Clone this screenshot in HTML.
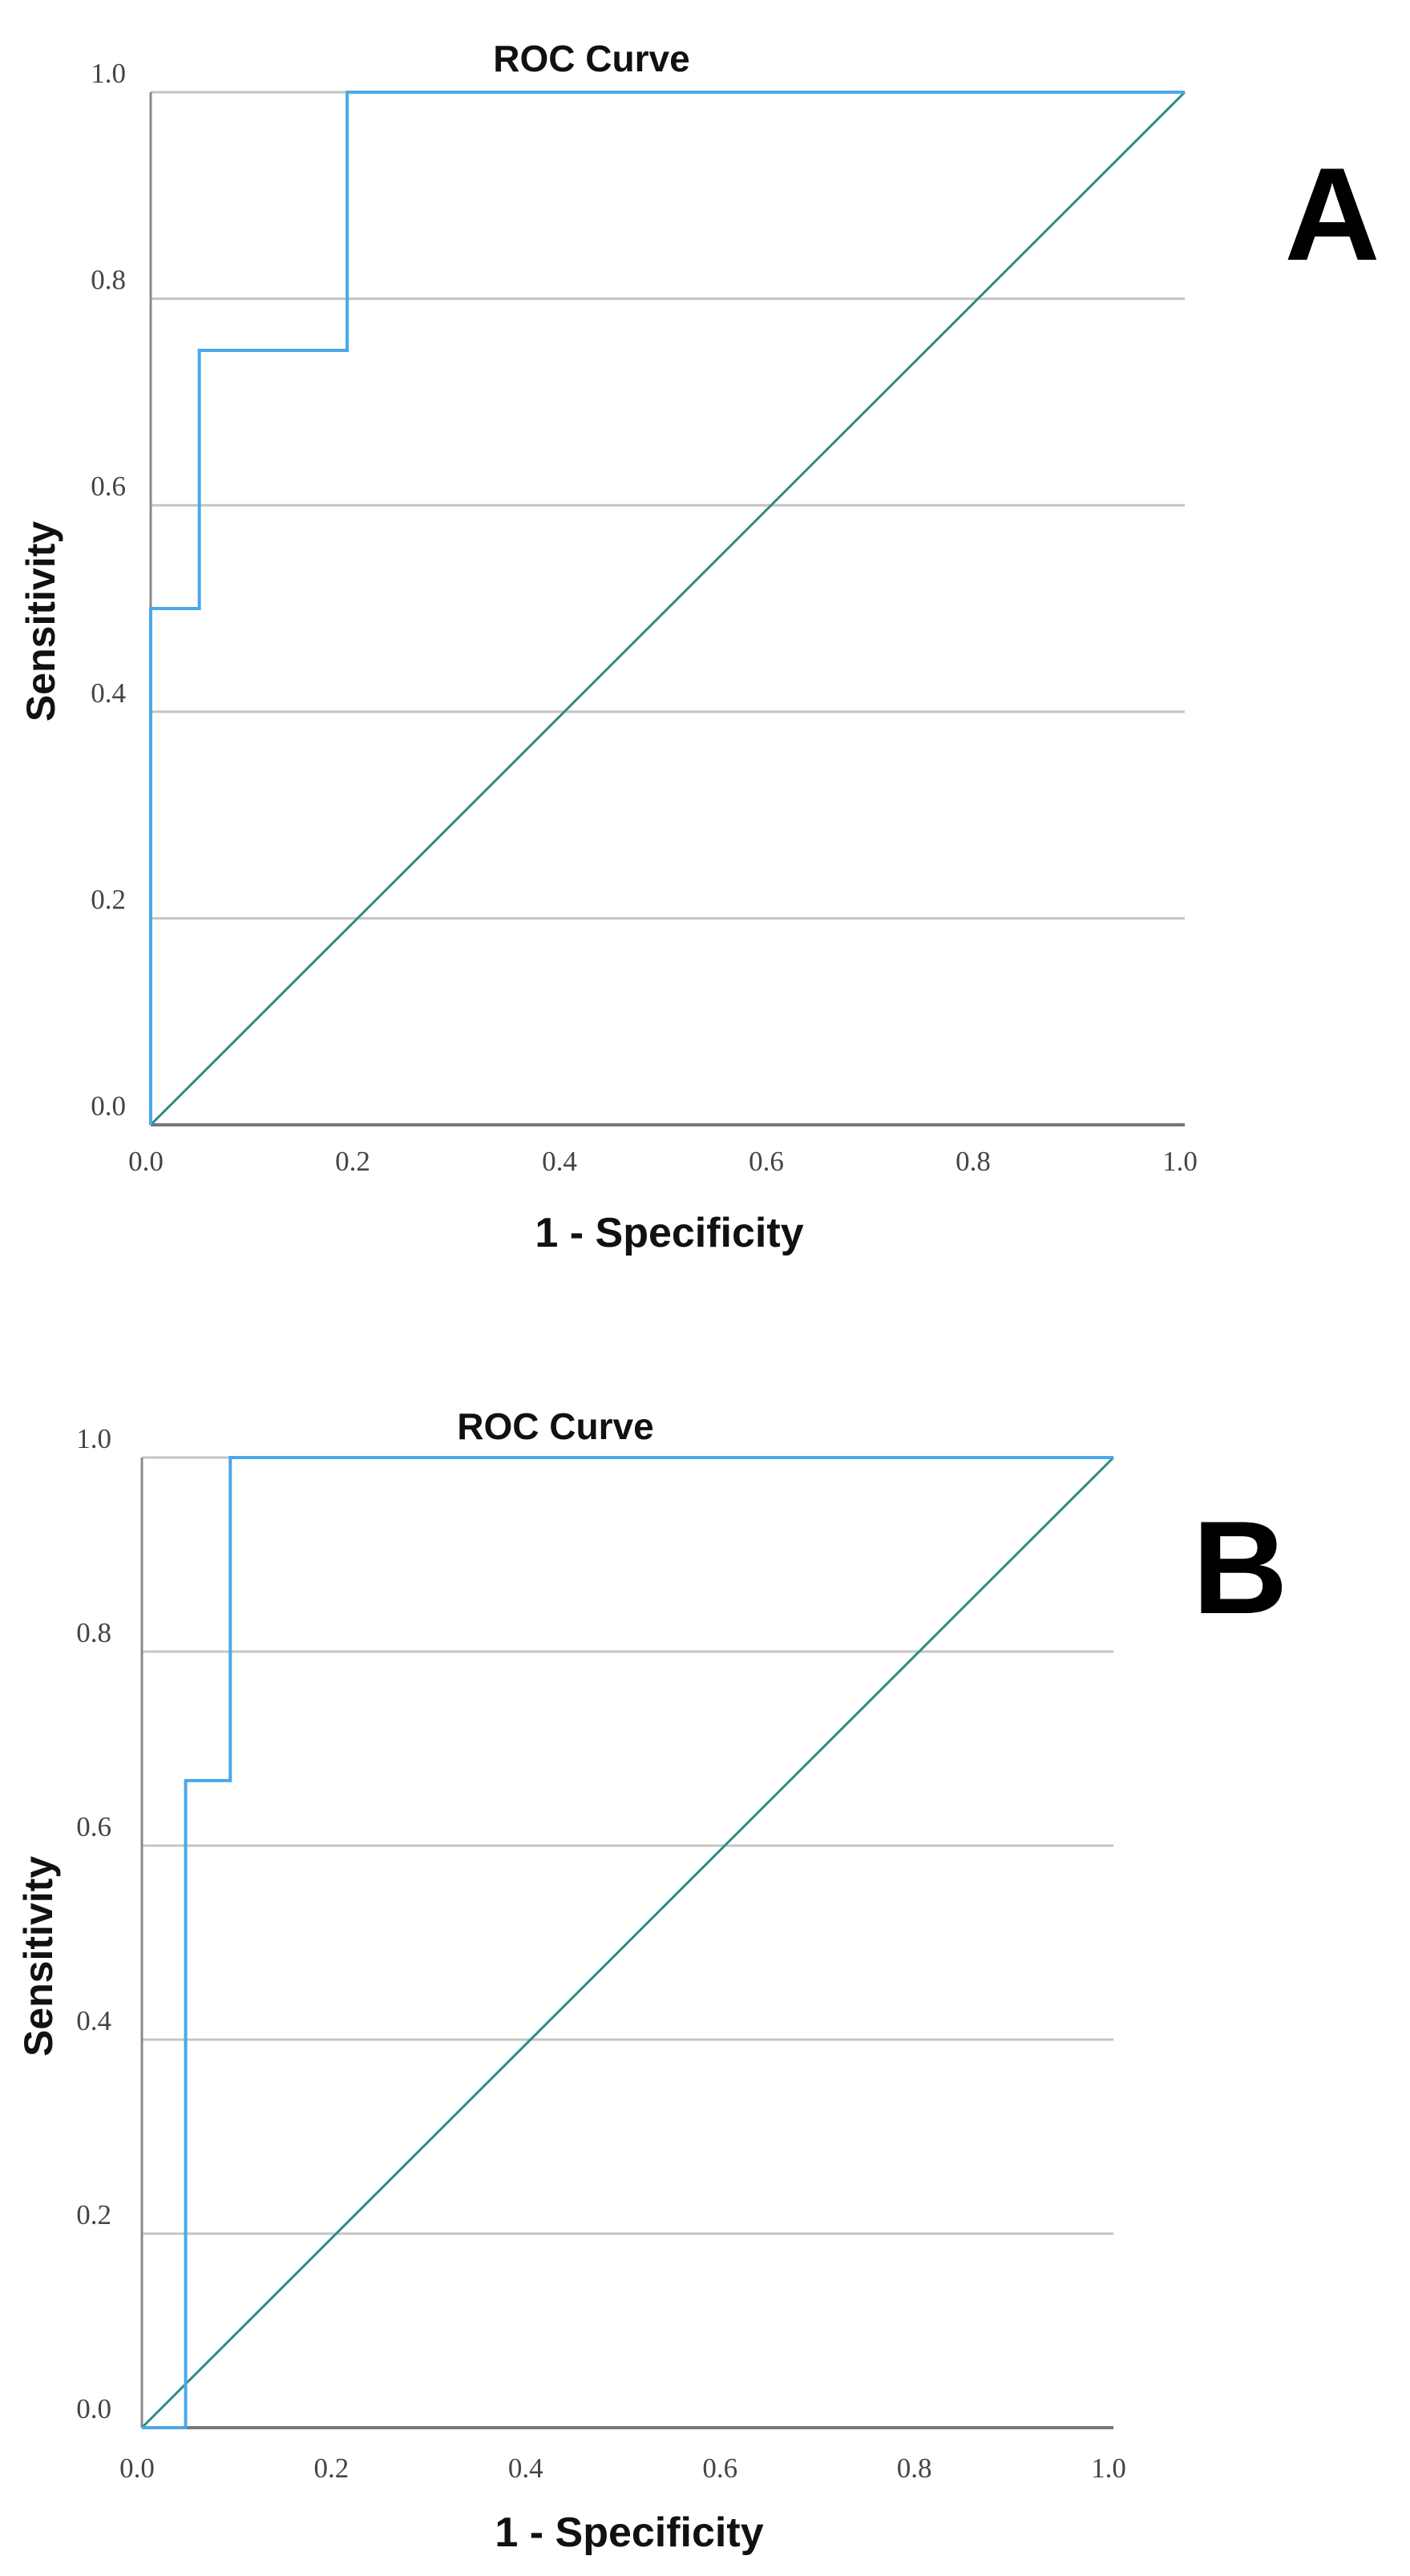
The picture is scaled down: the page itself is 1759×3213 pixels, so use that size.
<!DOCTYPE html>
<html><head><meta charset="utf-8"><style>
html,body{margin:0;padding:0;background:#fff;}
svg{display:block;}
</style></head><body>
<svg id="fig" width="1759" height="3213" viewBox="0 0 1759 3213" xmlns="http://www.w3.org/2000/svg"></svg>
<script>
const yTicks = [0.0, 0.2, 0.4, 0.6, 0.8, 1.0];
const xTicks = [0.0, 0.2, 0.4, 0.6, 0.8, 1.0];
const rocAx = [0, 0, 0.047, 0.047, 0.19, 0.19, 1.0];
const rocAy = [0, 0.5, 0.5, 0.75, 0.75, 1.0, 1.0];
const rocBx = [0, 0.045, 0.045, 0.091, 0.091, 1.0];
const rocBy = [0, 0, 0.667, 0.667, 1.0, 1.0];
const refX = [0, 1];
const refY = [0, 1];

const NS = 'http://www.w3.org/2000/svg';
const svg = document.getElementById('fig');
function mk(tag, attrs, parent) {
  const e = document.createElementNS(NS, tag);
  for (const k in attrs) e.setAttribute(k, attrs[k]);
  (parent || svg).appendChild(e);
  return e;
}
function drawChart(cfg) {
  const g = mk('g', {});
  
  
  const sx = v => cfg.x0 + v * (cfg.x1 - cfg.x0);
  const sy = v => cfg.y0 - v * (cfg.y0 - cfg.y1);
  yTicks.forEach(t => {
    if (t > 0) {
      const gl = mk('line', {x1: sx(0), x2: sx(1), y1: sy(t), y2: sy(t), stroke: '#c4c4c4', 'stroke-width': 3}, g);
      
      
    }
    const tl = mk('text', {x: cfg.ylabX, y: sy(t) - 12, 'text-anchor': 'end', 'font-family': 'Liberation Serif, serif', 'font-size': 35, fill: '#444'}, g);
    tl.textContent = t.toFixed(1);
    
    
  });
  xTicks.forEach(t => {
    const tl = mk('text', {x: sx(t) - 6, y: cfg.xlabY, 'text-anchor': 'middle', 'font-family': 'Liberation Serif, serif', 'font-size': 35, fill: '#444'}, g);
    tl.textContent = t.toFixed(1);
    
    
  });
  const ya = mk('line', {x1: sx(0), x2: sx(0), y1: sy(1), y2: sy(0), stroke: '#8a8a8a', 'stroke-width': 3}, g);
  
  
  const xa = mk('line', {x1: sx(0), x2: sx(1), y1: sy(0), y2: sy(0), stroke: '#777', 'stroke-width': 4}, g);
  
  
  const rp = mk('polyline', {points: refX.map((v, i) => sx(v) + ',' + sy(refY[i])).join(' '), fill: 'none', stroke: '#2f8a87', 'stroke-width': 3}, g);
  
  
  const cp = mk('polyline', {points: cfg.xs.map((v, i) => sx(v) + ',' + sy(cfg.ys[i])).join(' '), fill: 'none', stroke: '#4aa8ea', 'stroke-width': 4}, g);
  
  
  const ti = mk('text', {x: cfg.titleX, y: cfg.titleY, 'text-anchor': 'middle', 'font-family': 'Liberation Sans, sans-serif', 'font-size': 46, 'font-weight': 'bold', fill: '#111'}, g);
  ti.textContent = 'ROC Curve';
  
  
  const xt = mk('text', {x: cfg.xtX, y: cfg.xtY, 'text-anchor': 'middle', 'font-family': 'Liberation Sans, sans-serif', 'font-size': 52, 'font-weight': 'bold', fill: '#111'}, g);
  xt.textContent = '1 - Specificity';
  
  
  const yt = mk('text', {x: 0, y: 0, transform: 'translate(' + (cfg.ytX + 18) + ',' + cfg.ytY + ') rotate(-90)', 'text-anchor': 'middle', 'font-family': 'Liberation Sans, sans-serif', 'font-size': 50, 'font-weight': 'bold', fill: '#111'}, g);
  yt.textContent = 'Sensitivity';
  
  
  const pl = mk('text', {x: cfg.panelX, y: cfg.panelY, 'text-anchor': 'middle', 'font-family': 'Liberation Sans, sans-serif', 'font-size': 165, 'font-weight': 'bold', fill: '#000'}, g);
  pl.textContent = cfg.panel;
  
  
}
drawChart({name: 'roc-chart-a', x0: 188, x1: 1478, y0: 1403, y1: 115, xs: rocAx, ys: rocAy,
  ylabX: 157, xlabY: 1460, titleX: 738, titleY: 89, xtX: 835, xtY: 1555, ytX: 50, ytY: 775,
  panel: 'A', panelX: 1662, panelY: 324});
drawChart({name: 'roc-chart-b', x0: 177, x1: 1389, y0: 3028, y1: 1818, xs: rocBx, ys: rocBy,
  ylabX: 139, xlabY: 3090, titleX: 693, titleY: 1795, xtX: 785, xtY: 3176, ytX: 47, ytY: 2440,
  panel: 'B', panelX: 1547, panelY: 2012});
</script>
</body></html>
